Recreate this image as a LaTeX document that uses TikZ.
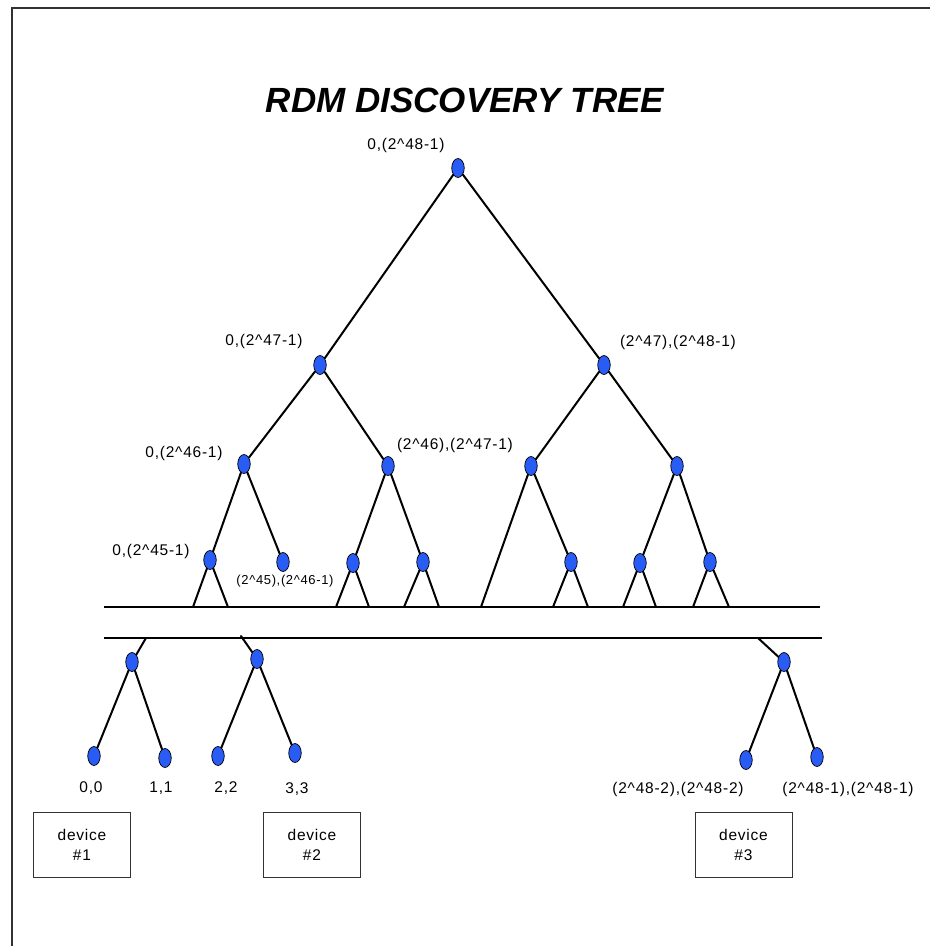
\documentclass[tikz,border=0pt]{standalone}
\usepackage{fontspec}
\setmainfont{Liberation Sans}
\newfontfamily\lblfont[LetterSpace=5]{Liberation Sans}
\usetikzlibrary{shapes.geometric}
\definecolor{nodeblue}{RGB}{40,92,245}
\definecolor{framegray}{RGB}{50,50,50}
\begin{document}
\begin{tikzpicture}[x=1pt,y=-1pt,
  dot/.style={ellipse,draw=black,line width=0.7pt,fill=nodeblue,minimum width=12.5pt,minimum height=19pt,inner sep=0pt},
  link/.style={line width=2pt,line cap=round},
  bus/.style={line width=2pt},
  lbl/.style={font=\lblfont\fontsize{15.5}{18}\selectfont,inner sep=0pt},
  smalllbl/.style={font=\lblfont\fontsize{13}{15}\selectfont,inner sep=0pt},
  devbox/.style={draw=black!80,line width=0.9pt,minimum width=97pt,minimum height=65pt,inner sep=0pt,align=center,font=\lblfont\fontsize{15.5}{20}\selectfont},
  frameline/.style={draw=framegray,line width=1.8pt}]
\useasboundingbox (0,0) rectangle (930,946);
% frame
\coordinate (ftl) at (12,8);
\coordinate (ftr) at (930,8);
\coordinate (fbl) at (12,946);
\draw[frameline] (ftr) -- (ftl) -- (fbl);
% title
\node[font=\bfseries\itshape\fontsize{35}{40}\selectfont,inner sep=0pt] (title) at (465,100) {RDM DISCOVERY TREE};
% tree nodes
\node[dot] (r) at (458,168) {};
\node[dot] (a) at (320,365) {};
\node[dot] (b) at (604,365) {};
\node[dot] (aa) at (244,464) {};
\node[dot] (ab) at (388,466) {};
\node[dot] (ba) at (531,466) {};
\node[dot] (bb) at (677,466) {};
\node[dot] (aaa) at (210,560) {};
\node[dot] (aab) at (283,562) {};
\node[dot] (aba) at (353,563) {};
\node[dot] (abb) at (423,562) {};
\node[dot] (bab) at (571,562) {};
\node[dot] (bba) at (640,563) {};
\node[dot] (bbb) at (710,562) {};
% tree edges
\draw[link] (r) -- (a);
\draw[link] (r) -- (b);
\draw[link] (a) -- (aa);
\draw[link] (a) -- (ab);
\draw[link] (b) -- (ba);
\draw[link] (b) -- (bb);
\draw[link] (aa) -- (aaa);
\draw[link] (aa) -- (aab);
\draw[link] (ab) -- (aba);
\draw[link] (ab) -- (abb);
\draw[link] (ba) -- (bab);
\draw[link] (bb) -- (bba);
\draw[link] (bb) -- (bbb);
% bus lines
\coordinate (busAl) at (104,607);
\coordinate (busAr) at (820,607);
\coordinate (busBl) at (104,638);
\coordinate (busBr) at (822,638);
\draw[bus] (busAl) -- (busAr);
\draw[bus] (busBl) -- (busBr);
% stubs to the upper bus
\coordinate (s1) at (193,607);
\coordinate (s2) at (228,607);
\coordinate (s3) at (336,607);
\coordinate (s4) at (369,607);
\coordinate (s5) at (404,607);
\coordinate (s6) at (439,607);
\coordinate (s7) at (481,607);
\coordinate (s8) at (553,607);
\coordinate (s9) at (588,607);
\coordinate (s10) at (623,607);
\coordinate (s11) at (656,607);
\coordinate (s12) at (693,607);
\coordinate (s13) at (729,607);
\draw[link] (aaa) -- (s1);
\draw[link] (aaa) -- (s2);
\draw[link] (aba) -- (s3);
\draw[link] (aba) -- (s4);
\draw[link] (abb) -- (s5);
\draw[link] (abb) -- (s6);
\draw[link] (ba) -- (s7);
\draw[link] (bab) -- (s8);
\draw[link] (bab) -- (s9);
\draw[link] (bba) -- (s10);
\draw[link] (bba) -- (s11);
\draw[link] (bbb) -- (s12);
\draw[link] (bbb) -- (s13);
% lower part
\node[dot] (c1) at (132,662) {};
\node[dot] (c2) at (257,659) {};
\node[dot] (c3) at (784,662) {};
\node[dot] (l1) at (94,756) {};
\node[dot] (l2) at (165,758) {};
\node[dot] (l3) at (218,756) {};
\node[dot] (l4) at (295,753) {};
\node[dot] (l5) at (746,760) {};
\node[dot] (l6) at (817,757) {};
\coordinate (t1) at (146,638);
\coordinate (t2) at (241,636);
\coordinate (t3) at (758,638);
\draw[link] (t1) -- (c1);
\draw[link] (t2) -- (c2);
\draw[link] (t3) -- (c3);
\draw[link] (c1) -- (l1);
\draw[link] (c1) -- (l2);
\draw[link] (c2) -- (l3);
\draw[link] (c2) -- (l4);
\draw[link] (c3) -- (l5);
\draw[link] (c3) -- (l6);
% labels
\node[lbl] (nr) at (406,145) {0,(2\^{}48-1)};
\node[lbl] (na) at (264,341) {0,(2\^{}47-1)};
\node[lbl] (nb) at (678,342) {(2\^{}47),(2\^{}48-1)};
\node[lbl] (naa) at (184,453) {0,(2\^{}46-1)};
\node[lbl] (nab) at (455,445) {(2\^{}46),(2\^{}47-1)};
\node[lbl] (naaa) at (151,551) {0,(2\^{}45-1)};
\node[smalllbl] (naab) at (285,581) {(2\^{}45),(2\^{}46-1)};
\node[lbl] (nl1) at (91,788) {0,0};
\node[lbl] (nl2) at (161,788) {1,1};
\node[lbl] (nl3) at (226,788) {2,2};
\node[lbl] (nl4) at (297,789) {3,3};
\node[lbl] (nl5) at (678,789) {(2\^{}48-2),(2\^{}48-2)};
\node[lbl] (nl6) at (848,789) {(2\^{}48-1),(2\^{}48-1)};
% device boxes
\node[devbox] (d1) at (82,844.5) {device\\\#1};
\node[devbox] (d2) at (312,844.5) {device\\\#2};
\node[devbox] (d3) at (743.5,844.5) {device\\\#3};
\end{tikzpicture}
\end{document}
